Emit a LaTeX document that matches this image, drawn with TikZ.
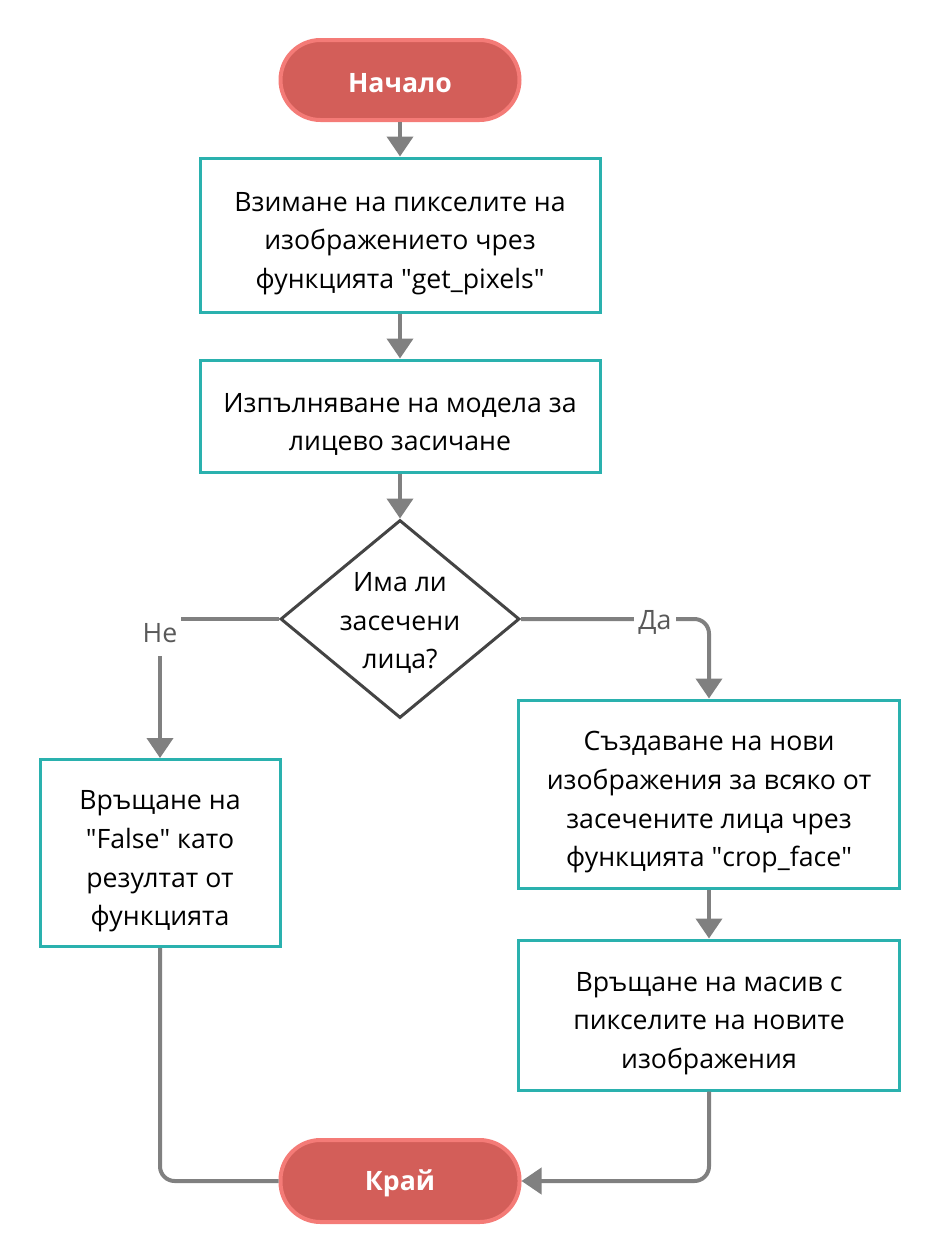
\documentclass[tikz,border=0pt]{standalone}
\usepackage{fontspec}
\setmainfont{Open Sans}
\usetikzlibrary{shapes.geometric,arrows.meta}
\definecolor{pillfill}{HTML}{D35E59}
\definecolor{pilledge}{HTML}{F47B77}
\definecolor{tealc}{HTML}{2AB1AE}
\definecolor{arrowgray}{HTML}{808080}
\definecolor{diaedge}{HTML}{444444}
\definecolor{labgray}{HTML}{595959}
\newcommand\qd{\textquotedbl}
\newcommand\bx{\rule{0pt}{27pt}}
\newcommand\dx{\rule{0pt}{20.5pt}}
\newcommand\px{\rule{0pt}{19pt}}
\tikzset{
  pill/.style={rectangle, rounded corners=30pt, draw=pilledge, fill=pillfill, line width=3pt,
    text=white, font=\fontsize{20}{29}\selectfont\bfseries, minimum width=179.25pt, minimum height=60pt, inner sep=0pt},
  proc/.style={rectangle, draw=tealc, fill=white, line width=2.25pt, align=center,
    font=\fontsize{20}{29}\selectfont, inner sep=0pt},
  decis/.style={diamond, draw=diaedge, fill=white, line width=2.25pt, align=center,
    font=\fontsize{20}{29}\selectfont, inner sep=-30pt, minimum width=179.25pt, minimum height=148.5pt},
  conn/.style={draw=arrowgray, line width=3pt},
  arr/.style={conn, -{Triangle[width=19.5pt,length=15pt]}},
  lab/.style={fill=white, text=labgray, font=\fontsize{20}{24}\selectfont, inner xsep=3pt, inner ysep=0pt, minimum height=35pt}
}
\begin{document}
\begin{tikzpicture}[x=0.75pt,y=-0.75pt]
\useasboundingbox (0,0) rectangle (941,1260);
\node[pill] (start) at (400,80) {\px Начало};
\node[proc, minimum width=300pt, minimum height=115.5pt] (b1) at (400,235) {\bx Взимане на пикселите на\\изображението чрез\\функцията \qd get\_pixels\qd};
\node[proc, minimum width=300pt, minimum height=84pt] (b2) at (400,416) {\bx Изпълняване на модела за\\лицево засичане};
\node[decis] (dec) at (400,619) {\dx Има ли\\засечени\\лица?};
\node[proc, minimum width=180pt, minimum height=140.25pt] (no) at (160,853) {\bx Връщане на\\\qd False\qd{} като\\резултат от\\функцията};
\node[proc, minimum width=285.75pt, minimum height=141pt] (yes1) at (709,794) {\bx Създаване на нови\\изображения за всяко от\\засечените лица чрез\\функцията \qd crop\_face\qd};
\node[proc, minimum width=285.75pt, minimum height=112.5pt] (yes2) at (709,1015) {\bx Връщане на масив с\\пикселите на новите\\изображения};
\node[pill, minimum height=61.5pt] (end) at (400,1181) {\px Край};

\draw[arr] (start) -- (b1);
\draw[arr] (b1) -- (b2);
\draw[arr] (b2) -- (dec);
\draw[arr] (dec.west) -| (no.north);
\draw[arr, rounded corners=11pt] (dec.east) -| (yes1.north);
\draw[arr] (yes1) -- (yes2);
\draw[conn, rounded corners=11pt] (no.south) |- (end.west);
\draw[arr, rounded corners=11pt] (yes2.south) |- (end.east);
\node[lab] (nolab) at (160,633) {Не};
\node[lab] (yeslab) at (655,622) {Да};
\end{tikzpicture}
\end{document}
